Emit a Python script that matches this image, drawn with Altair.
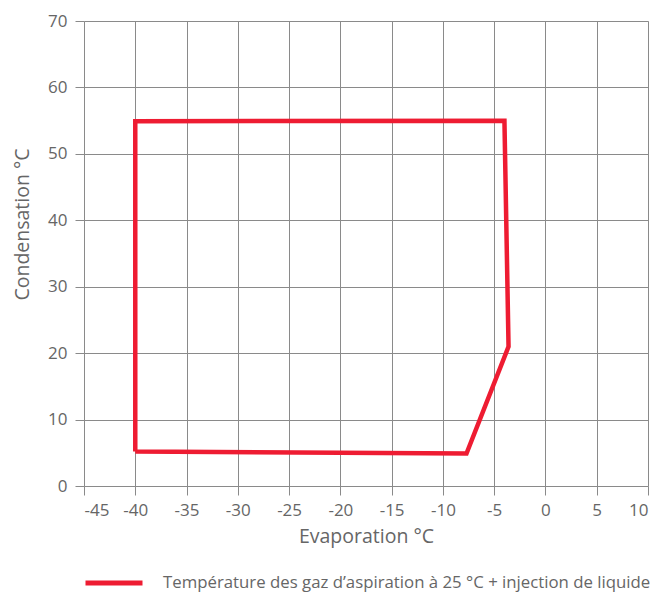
import altair as alt
import pandas as pd

series_name = "Température des gaz d’aspiration à 25 °C + injection de liquide"
evap = [-40.0, -40.0, -4.0, -3.6, -7.7, -40.0]
cond = [5.2, 54.9, 55.0, 21.0, 4.9, 5.2]
order = list(range(len(evap)))

x_ticks = list(range(-45, 11, 5))
y_ticks = list(range(0, 71, 10))

df = pd.DataFrame({"evap": evap, "cond": cond, "order": order,
                   "serie": [series_name] * len(evap)})

FONT = "Open Sans"
GRAY = "#666666"

chart = alt.Chart(df).mark_line(strokeWidth=4.5, strokeJoin="miter", clip=False).encode(
    x=alt.X("evap:Q", scale=alt.Scale(domain=[-45, 10], nice=False, zero=False),
            axis=alt.Axis(values=x_ticks, title="Evaporation °C", grid=True,
                          labelExpr="'' + datum.value",
                          gridColor="#8a8a8a", gridOpacity=1, gridWidth=1,
                          domain=False, tickColor="#8a8a8a", tickSize=9,
                          labelFont=FONT, labelFontSize=17, labelColor=GRAY,
                          labelPadding=7, titleFont=FONT, titleFontSize=19.5,
                          titleFontWeight="normal", titleColor=GRAY, titlePadding=9)),
    y=alt.Y("cond:Q", scale=alt.Scale(domain=[0, 70], nice=False, zero=False),
            axis=alt.Axis(values=y_ticks, title="Condensation °C", grid=True,
                          labelExpr="'' + datum.value",
                          gridColor="#8a8a8a", gridOpacity=1, gridWidth=1,
                          domain=False, tickColor="#8a8a8a", tickSize=9,
                          labelFont=FONT, labelFontSize=17, labelColor=GRAY,
                          labelPadding=8, titleFont=FONT, titleFontSize=19.5,
                          titleFontWeight="normal", titleColor=GRAY, titlePadding=15,
                          titleY=203)),
    order="order:O",
    color=alt.Color("serie:N", scale=alt.Scale(range=["#ee1c32"]),
                    legend=alt.Legend(title=None, orient="none", legendX=-1, legendY=531,
                                      symbolType="stroke", symbolSize=3249,
                                      symbolStrokeWidth=5, labelFont=FONT,
                                      labelFontSize=16.8, labelColor=GRAY,
                                      labelOffset=18, padding=0, labelLimit=600)),
).properties(
    width=564, height=465,
    autosize=alt.AutoSizeParams(type="none"),
    padding={"left": 76, "top": 13, "right": 5, "bottom": 106},
).configure_view(fill="#f4f4f4", stroke=None).configure(background="white")

chart.save("out.html", embed_options={"renderer": "svg", "actions": False})
